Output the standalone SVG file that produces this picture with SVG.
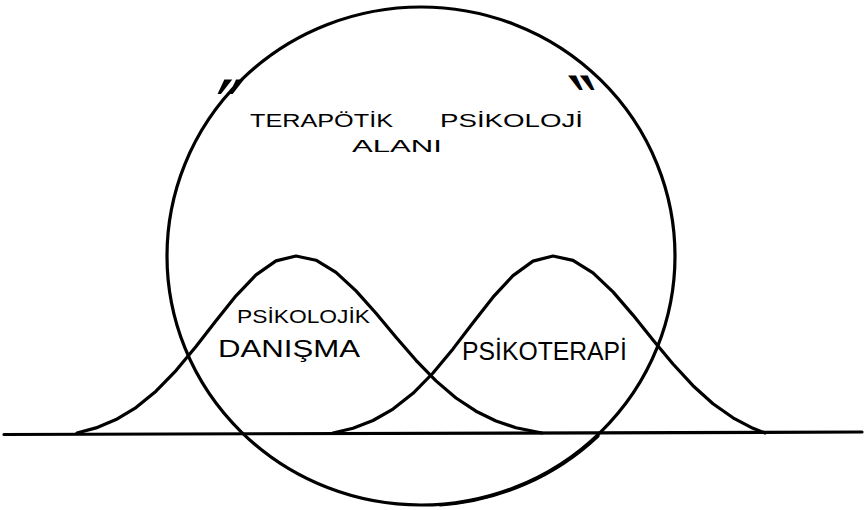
<svg xmlns="http://www.w3.org/2000/svg" width="864" height="510" viewBox="0 0 864 510">
  <style>
    .ln { fill: none; stroke: #000; stroke-width: 3.2; stroke-linejoin: round; stroke-linecap: round; }
    .t { font-family: "Liberation Sans", Arial, sans-serif; fill: #000; }
    .q { font-family: "DejaVu Sans", sans-serif; fill: #000; font-size: 80px; }
  </style>
  <rect width="864" height="510" fill="#fff"/>

  <g id="baseline">
    <path class="ln" d="M4,434.5 L862,432" stroke-width="3"/>
  </g>

  <g id="terapotik-psikoloji-alani">
    <ellipse class="ln" cx="421" cy="256" rx="254" ry="249"/>
    <path class="ln" d="M598,436 A254,249 0 0 1 440,505" stroke-width="4.5"/>
    <text class="q" x="216" y="138">″</text>
    <text class="q" transform="translate(1162,0) scale(-1,1)" x="566" y="134">″</text>
    <text class="t" font-size="19" y="127"><tspan x="250" textLength="143" lengthAdjust="spacingAndGlyphs">TERAPÖTİK</tspan><tspan x="440" textLength="143" lengthAdjust="spacingAndGlyphs">PSİKOLOJİ</tspan></text>
    <text class="t" x="352" y="152" font-size="17" textLength="90" lengthAdjust="spacingAndGlyphs">ALANI</text>
  </g>

  <g id="psikolojik-danisma">
    <path class="ln" d="M77,433 L96,427.9 L116,419.6 L136,407.6 L156,391.2 L176,370.6 L196,346.5 L216,320.7 L236,295.8 L256,274.9 L276,260.9 L296,256 L316,260.2 L336,272.4 L356,290.9 L376,313.3 L396,337.2 L416,360.3 L436,380.9 L456,398 L476,411.2 L496,421 L516,427.7 L542,433"/>
    <text class="t" x="237" y="323" font-size="19" textLength="133" lengthAdjust="spacingAndGlyphs">PSİKOLOJİK</text>
    <text class="t" x="218" y="357" font-size="24" textLength="142" lengthAdjust="spacingAndGlyphs">DANIŞMA</text>
  </g>

  <g id="psikoterapi">
    <path class="ln" d="M333,433 L353,428.2 L373,420.5 L393,409.1 L413,393.3 L433,373 L453,348.9 L473,322.7 L493,297.2 L513,275.6 L533,261.1 L553,256 L573,260.4 L593,272.9 L613,291.9 L633,315.1 L653,340 L673,364 L693,385.7 L713,403.7 L733,417.8 L753,428.3 L765,433"/>
    <text class="t" x="462" y="360" font-size="25" textLength="165" lengthAdjust="spacingAndGlyphs">PSİKOTERAPİ</text>
  </g>
</svg>
